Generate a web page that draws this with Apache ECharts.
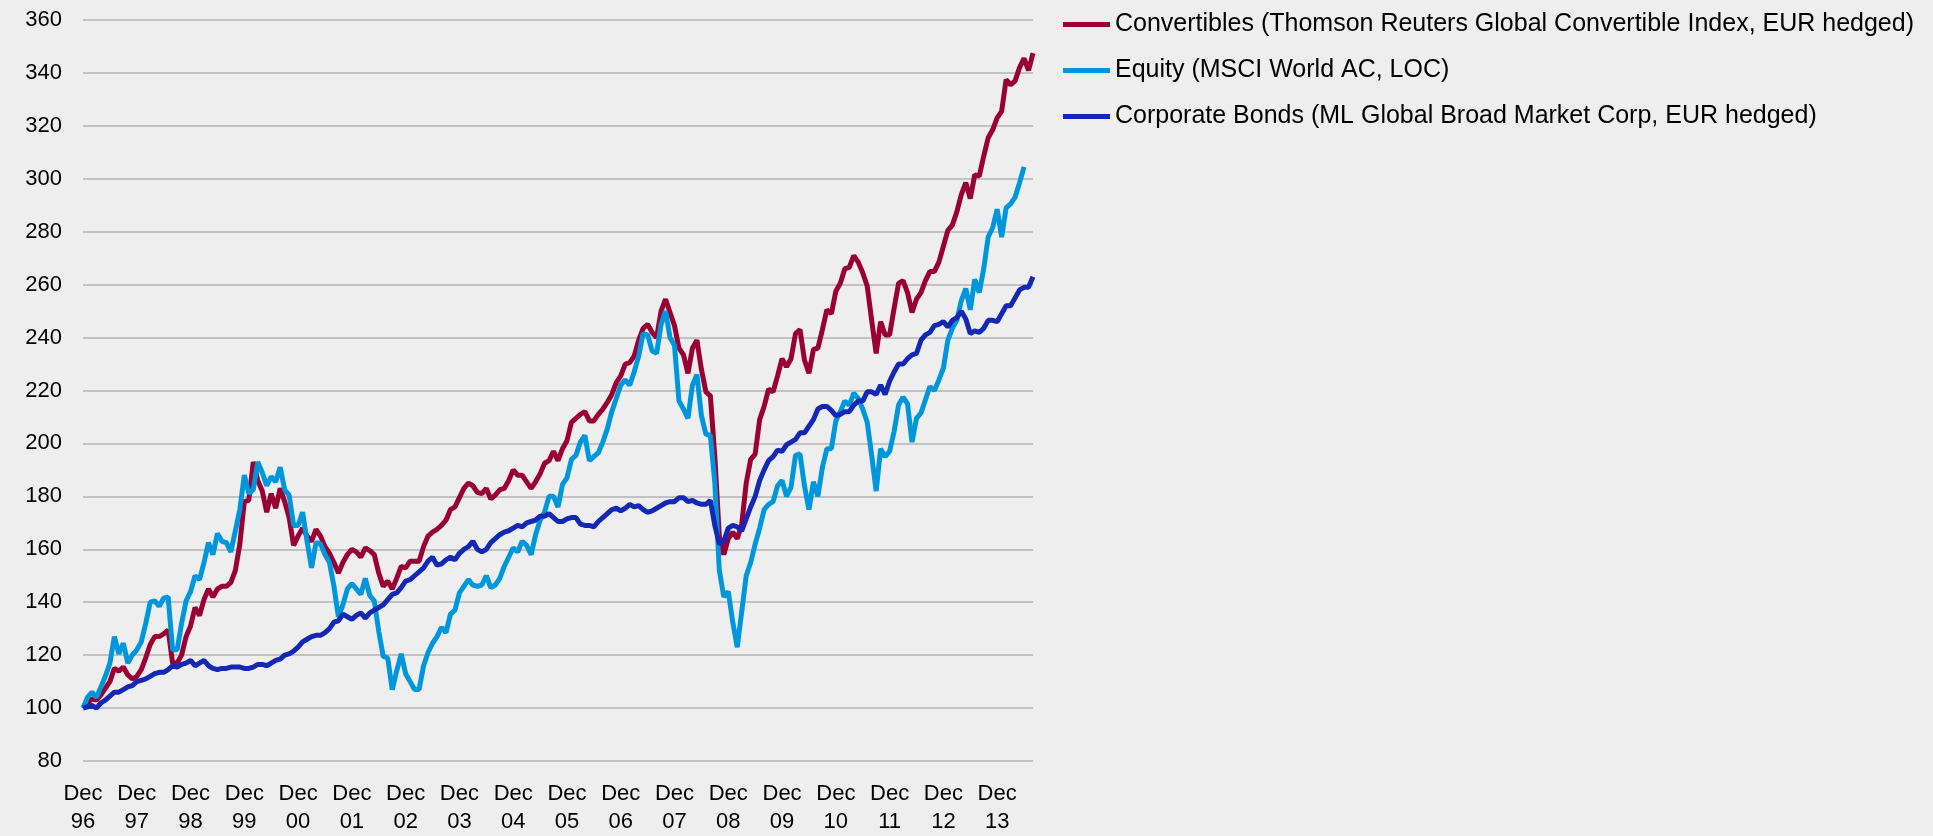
<!DOCTYPE html>
<html>
<head>
<meta charset="utf-8">
<title>Convertibles, Equity and Corporate Bonds</title>
<script src="https://cdn.jsdelivr.net/npm/echarts@6/dist/echarts.min.js"></script>
<style>
  html, body { margin: 0; padding: 0; background: #eeeeee; }
  #chart { width: 1933px; height: 836px; }
</style>
</head>
<body>
<div id="chart"></div>
<script>
// monthly index values, Dec 96 = 100
const convertibles = [
  100, 102, 103.5, 103, 105, 107.5, 110, 115, 114, 115.5,
  112.5, 111, 112, 114.5, 119, 124, 127, 127, 128, 129.5,
  117, 117, 120, 127, 131, 138, 135, 141, 145, 142,
  145, 146, 146, 147.5, 152, 162, 178, 178.5, 193, 186,
  182, 174, 181, 175.5, 183, 178, 172, 161.5, 165, 168,
  165, 163, 167.5, 165, 161, 158.5, 155, 151, 155, 158,
  160, 159, 157, 160.5, 159.5, 158, 151, 146, 148, 145,
  149, 153.5, 153, 155.5, 155.5, 155.5, 161, 165, 166.5, 167.5,
  169, 171, 175, 176, 179.5, 183, 185, 184, 181.5, 181,
  183, 179, 180.5, 182.5, 183, 186, 190, 188, 188, 185.5,
  183, 185.5, 188.5, 192.5, 193.5, 197, 193.5, 198, 201, 208,
  209.5, 211, 212, 208.5, 208.5, 211, 213, 215.5, 218.5, 223,
  225.5, 230, 230.5, 233, 239, 243.5, 245, 242, 240, 250,
  254.5, 249.5, 244.5, 236, 233.5, 226.5, 236, 239, 228, 219.5,
  218, 195, 165, 158, 164, 166.5, 164, 169.5, 185, 194,
  196, 209, 214, 220.5, 219.5, 225.5, 232, 229, 232, 241.5,
  243, 231.5, 226.5, 235.5, 236, 243, 250.5, 249, 257.5, 260.5,
  266, 266.5, 271, 268.5, 264.5, 259.5, 246.5, 234, 246, 241,
  241, 251, 260.5, 261.5, 257, 249.5, 254.5, 257, 261.5, 265,
  265, 268.5, 274.5, 280.5, 282.5, 287.5, 294, 298.5, 292.5, 301.5,
  301, 308.5, 315.5, 318.5, 323, 325.5, 337.5, 335.5, 337, 342,
  345.5, 341, 347.5
]

const equity = [
  100, 104, 106, 104, 108, 112, 117, 127, 120.5, 124.5,
  117, 120, 122, 125, 132, 140, 140.5, 138.5, 141.5, 142,
  122, 122, 132, 140.5, 144, 150, 148.5, 155, 162.5, 158,
  166, 163, 162.5, 159, 167, 175, 188, 181, 182.5, 193,
  189, 184, 187.5, 185.5, 191, 182.5, 180.5, 169, 169, 174,
  163, 153, 162.5, 162, 158, 155, 146, 134.5, 139, 145,
  147, 145, 143, 149, 142.5, 140.5, 129, 119.5, 119, 107,
  114, 120.5, 113, 110, 107, 107, 116, 121, 124.5, 127,
  130.5, 128.5, 135.5, 137, 143.5, 146, 148.5, 146.5, 146, 146.5,
  150, 145.5, 146.5, 149, 153.5, 157, 160.5, 159, 163, 161.5,
  158, 165.5, 171, 174, 180, 180, 176, 184.5, 187, 194,
  195.5, 200.5, 203, 193.5, 195, 196.5, 200.5, 205.5, 212, 217,
  222, 224, 222, 227, 233, 241.5, 241, 235, 234, 245,
  250, 240, 237, 216, 213, 209.5, 222, 226, 210.5, 203.5,
  203, 185, 152, 142, 144, 132.5, 123, 136.5, 150, 155,
  162, 168, 175, 177, 178, 184, 186, 180, 183.5, 195.5,
  196, 184, 175, 185.5, 180, 191, 198, 198, 208.5, 212,
  216, 214.5, 219, 217, 213, 208, 195.5, 182, 198, 195,
  197, 204.5, 214.5, 217.5, 215, 200.5, 209.5, 211.5, 216.5, 221.5,
  220, 224, 228.5, 239, 243.5, 246.5, 254, 258.5, 250.5, 262,
  257, 266, 278, 281.5, 288.5, 278, 289, 290.5, 293, 298.5,
  304.5, null, null
]

const corporateBonds = [
  100, 100.5, 101, 100, 102, 103, 104.5, 106, 106, 107,
  108, 108.5, 110, 110.5, 111, 112, 113, 113.5, 113.5, 114.5,
  116, 115.5, 116.5, 117, 118, 116, 117, 118, 116, 115,
  114.5, 115, 115, 115.5, 115.5, 115.5, 115, 115, 115.5, 116.5,
  116.5, 116, 117, 118, 118.5, 120, 120.5, 121.5, 123, 125,
  126, 127, 127.5, 127.5, 128.5, 130, 132.5, 133, 135.5, 134.5,
  133.5, 135, 136, 134, 136, 137, 138, 139, 141, 143,
  143.5, 145.5, 148, 148.5, 150, 151.5, 153, 155.5, 157, 154,
  154.5, 156, 157, 156, 158.5, 160, 161, 163, 160, 159,
  160, 162.5, 164, 165.5, 166.5, 167, 168, 169, 168.5, 170,
  170.5, 171, 172.5, 172.5, 173.5, 172, 170.5, 170.5, 171.5, 172,
  172, 169.5, 169, 169, 168.5, 170.5, 172, 173.5, 175, 175.5,
  174.5, 175.5, 177, 176, 176.5, 175, 174, 174.5, 175.5, 176.5,
  177.5, 178, 178, 179.5, 179.5, 178, 178.5, 177.5, 177, 177,
  178.5, 169, 162, 163, 168, 169, 168.5, 167, 171.5, 176,
  180, 186, 190, 193.5, 195, 197.5, 197, 199.5, 200.5, 201.5,
  204, 204, 206.5, 209, 213, 214, 214, 212.5, 210.5, 211,
  212, 212, 214.5, 216, 216, 219.5, 219.5, 218.5, 222, 218.5,
  223.5, 227, 230, 230, 232, 233.5, 234, 239, 241, 242,
  244.5, 245, 246, 244, 246.5, 247.5, 250, 247, 241.5, 242.5,
  242, 243.5, 246.5, 246.5, 246, 249, 252, 252, 255, 258,
  259, 259, 263
]

const seriesNames = [
  'Convertibles (Thomson Reuters Global Convertible Index, EUR hedged)',
  'Equity (MSCI World AC, LOC)',
  'Corporate Bonds (ML Global Broad Market Corp, EUR hedged)'
]
const colors = ['#990034', '#0096dc', '#1428b4']

// month labels from Dec 96 onwards
const monthNames = ['Jan', 'Feb', 'Mar', 'Apr', 'May', 'Jun', 'Jul', 'Aug', 'Sep', 'Oct', 'Nov', 'Dec']
const categories = []
for (let i = 0; i < convertibles.length; i++) {
  const m = (11 + i) % 12
  const y = (1996 + Math.floor((11 + i) / 12)) % 100
  categories.push(monthNames[m] + ' ' + String(y).padStart(2, '0'))
}

const fontFamily = '"Liberation Sans", Arial, sans-serif'

const chart = echarts.init(document.getElementById('chart'))

chart.setOption({
  backgroundColor: '#eeeeee',
  animation: false,
  color: colors,
  textStyle: { fontFamily: fontFamily },
  legend: {
    orient: 'vertical',
    left: 1058,
    top: 6,
    itemWidth: 47,
    itemHeight: 5,
    itemGap: 19,
    icon: 'rect',
    textStyle: { fontSize: 25, lineHeight: 27, color: '#000', fontFamily: fontFamily },
    data: seriesNames
  },
  grid: {
    left: 83,
    right: 900,
    top: 20,
    bottom: 72,
    containLabel: false
  },
  xAxis: {
    type: 'category',
    boundaryGap: false,
    data: categories,
    axisLine: { show: false },
    axisTick: { show: false },
    axisLabel: {
      interval: (idx) => idx % 12 === 0,
      formatter: (v) => v.replace(' ', '\n'),
      fontSize: 22,
      lineHeight: 28,
      color: '#000',
      margin: 19
    },
    splitLine: { show: false }
  },
  yAxis: {
    type: 'value',
    min: 80,
    max: 360,
    interval: 20,
    axisLine: { show: false },
    axisTick: { show: false },
    axisLabel: { fontSize: 22, color: '#000', margin: 21 },
    splitLine: { lineStyle: { color: '#c2c2c2', width: 2 } }
  },
  series: [
    { name: seriesNames[0], type: 'line', data: convertibles, showSymbol: false, symbol: 'none', lineStyle: { width: 5 } },
    { name: seriesNames[1], type: 'line', data: equity, showSymbol: false, symbol: 'none', lineStyle: { width: 5 } },
    { name: seriesNames[2], type: 'line', data: corporateBonds, showSymbol: false, symbol: 'none', lineStyle: { width: 5 } }
  ]
})
</script>
</body>
</html>
